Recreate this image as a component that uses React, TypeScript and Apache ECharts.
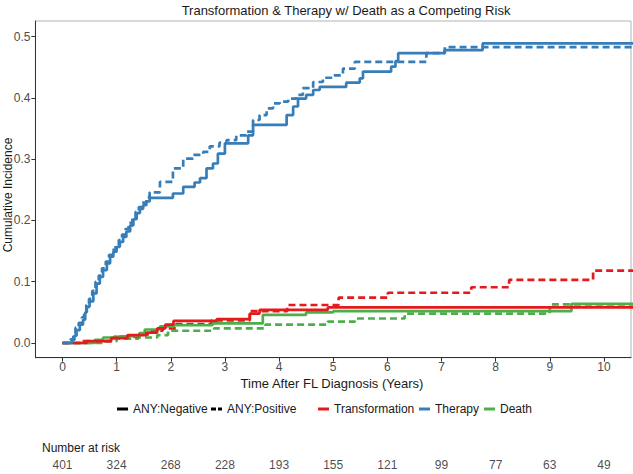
import React, { useEffect, useRef } from "react";
import * as echarts from "echarts";

const TITLE = "Transformation & Therapy w/ Death as a Competing Risk";
const X_TITLE = "Time After FL Diagnosis (Years)";
const Y_TITLE = "Cumulative Incidence";
const X_TICKS = [0, 1, 2, 3, 4, 5, 6, 7, 8, 9, 10];
const Y_TICKS = [0, 0.1, 0.2, 0.3, 0.4, 0.5];
const RISK_TIMES = [0, 1, 2, 3, 4, 5, 6, 7, 8, 9, 10];
const AT_RISK = [401, 324, 268, 228, 193, 155, 121, 99, 77, 63, 49];

const therapyNeg: number[][] = [
  [0, 0], [0.17, 0.005], [0.22, 0.012], [0.26, 0.021], [0.32, 0.03], [0.38, 0.038], [0.42, 0.05],
  [0.45, 0.059], [0.5, 0.068], [0.57, 0.081], [0.63, 0.097], [0.69, 0.108], [0.75, 0.119],
  [0.82, 0.13], [0.88, 0.141], [0.94, 0.149], [1.0, 0.157], [1.06, 0.165], [1.12, 0.173],
  [1.18, 0.182], [1.25, 0.192], [1.31, 0.202], [1.37, 0.212], [1.43, 0.219], [1.49, 0.225],
  [1.55, 0.231], [1.61, 0.237], [2.04, 0.244], [2.23, 0.255], [2.44, 0.262], [2.54, 0.269],
  [2.66, 0.285], [2.78, 0.293], [2.87, 0.309], [3.0, 0.326], [3.43, 0.339], [3.52, 0.356],
  [4.14, 0.372], [4.26, 0.386], [4.35, 0.399], [4.5, 0.405], [4.63, 0.413], [4.75, 0.418],
  [5.24, 0.425], [5.49, 0.432], [5.55, 0.443], [6.07, 0.451], [6.15, 0.46], [6.2, 0.473],
  [7.06, 0.478], [7.76, 0.489], [10.6, 0.489],
];
const therapyPos: number[][] = [
  [0, 0], [0.15, 0.006], [0.2, 0.015], [0.24, 0.025], [0.3, 0.033], [0.36, 0.042], [0.4, 0.053],
  [0.44, 0.062], [0.49, 0.072], [0.55, 0.085], [0.61, 0.1], [0.67, 0.11], [0.73, 0.122],
  [0.8, 0.133], [0.86, 0.144], [0.92, 0.152], [0.98, 0.16], [1.04, 0.168], [1.1, 0.177],
  [1.16, 0.186], [1.22, 0.196], [1.29, 0.206], [1.35, 0.214], [1.41, 0.222], [1.47, 0.229],
  [1.55, 0.238], [1.61, 0.246], [1.8, 0.263], [2.04, 0.285], [2.23, 0.301], [2.41, 0.307],
  [2.6, 0.312], [2.72, 0.321], [2.9, 0.327], [3.03, 0.331], [3.21, 0.339], [3.4, 0.345],
  [3.52, 0.364], [3.64, 0.372], [3.77, 0.383], [3.89, 0.391], [4.01, 0.394], [4.17, 0.399],
  [4.32, 0.405], [4.44, 0.416], [4.63, 0.426], [4.81, 0.433], [5.0, 0.437], [5.18, 0.448],
  [5.4, 0.459], [6.72, 0.473], [7.06, 0.483], [10.6, 0.483],
];
const transNeg: number[][] = [
  [0, 0], [0.45, 0.003], [0.9, 0.008], [1.2, 0.013], [1.55, 0.017], [1.75, 0.024], [1.9, 0.03],
  [2.05, 0.036], [2.85, 0.039], [3.46, 0.048], [3.64, 0.054], [4.9, 0.058], [10.6, 0.058],
];
const transPos: number[][] = [
  [0, 0], [0.35, 0.003], [0.95, 0.01], [1.4, 0.014], [1.65, 0.02], [1.85, 0.024], [2.1, 0.031],
  [2.75, 0.037], [3.46, 0.052], [4.15, 0.062], [5.1, 0.074], [6.01, 0.082], [7.55, 0.091],
  [8.25, 0.103], [9.8, 0.118], [10.6, 0.118],
];
const deathNeg: number[][] = [
  [0, 0], [0.6, 0.005], [0.75, 0.009], [1.05, 0.011], [1.42, 0.016], [1.52, 0.022], [1.8, 0.027],
  [2.06, 0.029], [2.77, 0.032], [3.7, 0.046], [4.5, 0.05], [5.0, 0.052], [9.4, 0.064], [10.6, 0.064],
];
const deathPos: number[][] = [
  [0, 0], [0.8, 0.003], [1.0, 0.007], [1.4, 0.009], [1.75, 0.013], [1.95, 0.02], [2.8, 0.024],
  [3.75, 0.03], [4.9, 0.035], [5.4, 0.04], [6.32, 0.048], [9.0, 0.063], [10.6, 0.063],
];

const RED = "#E41A1C";
const BLUE = "#377EB8";
const GREEN = "#4DAF4A";
const DASH = [7, 4];
const FONT = "Liberation Sans, Arial, sans-serif";

function stepSeries(name: string, data: number[][], color: string, dashed: boolean) {
  return {
    name,
    type: "line",
    step: "end",
    data,
    showSymbol: false,
    symbol: "none",
    xAxisIndex: 0,
    yAxisIndex: 0,
    lineStyle: { color, width: 2.7, type: dashed ? DASH : "solid" },
    z: dashed ? 3 : 4,
  };
}

export default function App() {
  const ref = useRef<HTMLDivElement>(null);
  useEffect(() => {
    if (!ref.current) return;
    const chart = echarts.init(ref.current, null, { renderer: "svg" });
    const legendY = 409;
    const legendLine = (x: number, color: string, dashed: boolean) => ({
      type: "line",
      shape: { x1: x, y1: legendY, x2: x + 11, y2: legendY },
      style: { stroke: color, lineWidth: 3, lineDash: dashed ? [5, 2] : null },
    });
    const legendText = (x: number, text: string) => ({
      type: "text",
      x,
      y: legendY,
      style: { text, font: `12px ${FONT}`, fill: "#1a1a1a", textVerticalAlign: "middle" },
    });
    chart.setOption({
      animation: false,
      backgroundColor: "#ffffff",
      grid: [
        { left: 35.4, right: 2, top: 21, height: 336.7, show: true, borderColor: "#b3b3b3", borderWidth: 1, backgroundColor: "transparent" },
        { left: 35.4, right: 2, top: 455, height: 20, show: false },
      ],
      xAxis: [
        {
          type: "value", gridIndex: 0, min: -0.5, max: 10.5,
          axisLine: { show: true, onZero: false, lineStyle: { color: "#333333", width: 1 } },
          axisTick: { show: true, customValues: X_TICKS, length: 4, lineStyle: { color: "#333333" } },
          axisLabel: { customValues: X_TICKS, color: "#4d4d4d", fontSize: 12, fontFamily: FONT, margin: 3 },
          splitLine: { show: false },
        },
        {
          type: "value", gridIndex: 1, min: -0.5, max: 10.5,
          axisLine: { show: false }, axisTick: { show: false }, axisLabel: { show: false }, splitLine: { show: false },
        },
      ],
      yAxis: [
        {
          type: "value", gridIndex: 0, min: -0.024, max: 0.5256,
          axisLine: { show: true, onZero: false, lineStyle: { color: "#333333", width: 1 } },
          axisTick: { show: true, customValues: Y_TICKS, length: 4, lineStyle: { color: "#333333" } },
          axisLabel: {
            customValues: Y_TICKS, color: "#4d4d4d", fontSize: 12, fontFamily: FONT, margin: 5,
            formatter: (v: number) => v.toFixed(1),
          },
          splitLine: { show: false },
        },
        {
          type: "value", gridIndex: 1, min: 0, max: 1,
          axisLine: { show: false }, axisTick: { show: false }, axisLabel: { show: false }, splitLine: { show: false },
        },
      ],
      series: [
        stepSeries("Death ANY:Positive", deathPos, GREEN, true),
        stepSeries("Transformation ANY:Positive", transPos, RED, true),
        stepSeries("Therapy ANY:Positive", therapyPos, BLUE, true),
        stepSeries("Death ANY:Negative", deathNeg, GREEN, false),
        stepSeries("Transformation ANY:Negative", transNeg, RED, false),
        stepSeries("Therapy ANY:Negative", therapyNeg, BLUE, false),
        {
          name: "Number at risk",
          type: "scatter",
          xAxisIndex: 1,
          yAxisIndex: 1,
          symbolSize: 1,
          itemStyle: { color: "rgba(0,0,0,0)" },
          data: RISK_TIMES.map((t, i) => [t, 0.5, AT_RISK[i]]),
          label: {
            show: true, position: "inside", color: "#1a1a1a", fontSize: 12, fontFamily: FONT,
            formatter: (p: any) => String(p.value[2]),
          },
          silent: true,
        },
      ],
      graphic: [
        { type: "text", x: 346, y: 10, style: { text: TITLE, font: `13px ${FONT}`, fill: "#1a1a1a", textAlign: "center", textVerticalAlign: "middle" } },
        { type: "text", x: 8, y: 195, rotation: Math.PI / 2, style: { text: Y_TITLE, font: `12px ${FONT}`, fill: "#1a1a1a", textAlign: "center", textVerticalAlign: "middle" } },
        { type: "text", x: 332, y: 383, style: { text: X_TITLE, font: `13px ${FONT}`, fill: "#1a1a1a", textAlign: "center", textVerticalAlign: "middle" } },
        legendLine(117, "#000000", false),
        legendText(133, "ANY:Negative"),
        legendLine(211, "#000000", true),
        legendText(227, "ANY:Positive"),
        legendLine(318, RED, false),
        legendText(334, "Transformation"),
        legendLine(419, BLUE, false),
        legendText(435, "Therapy"),
        legendLine(484, GREEN, false),
        legendText(500, "Death"),
        { type: "text", x: 42, y: 448, style: { text: "Number at risk", font: `12px ${FONT}`, fill: "#1a1a1a", textVerticalAlign: "middle" } },
      ],
    });
    return () => chart.dispose();
  }, []);
  return <div ref={ref} style={{ position: "fixed", left: 0, top: 0, width: 633, height: 474 }} />;
}
